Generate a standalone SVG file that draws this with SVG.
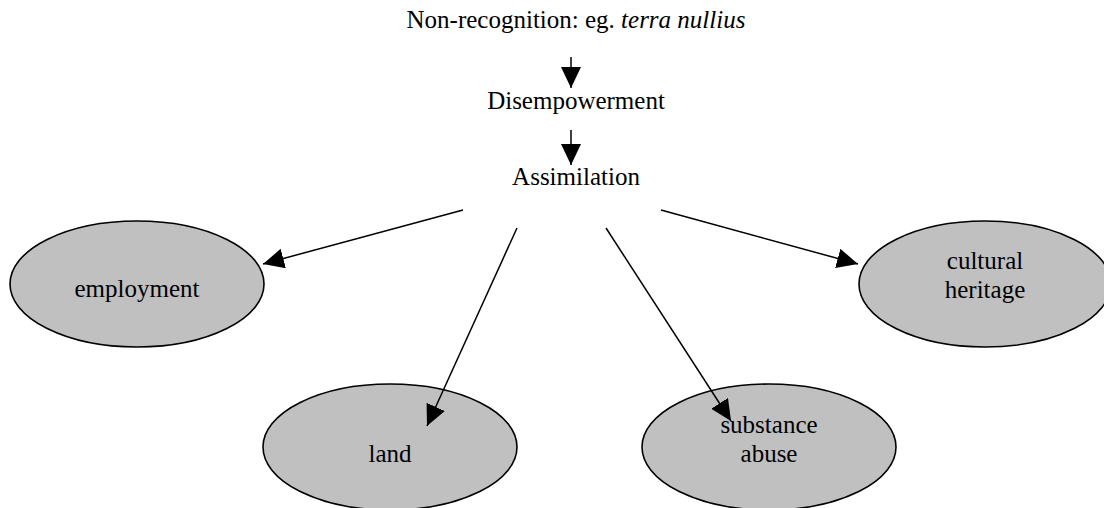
<svg xmlns="http://www.w3.org/2000/svg" width="1104" height="508" viewBox="0 0 1104 508">
<style>
text{font-family:"Times New Roman","Liberation Serif","Nimbus Roman","DejaVu Serif",serif;font-size:25px;fill:#000;text-anchor:middle}
.node ellipse{fill:#c0c0c0;stroke:#000;stroke-width:1.6}
.edge{stroke:#000;stroke-width:1.5;fill:none}
</style>
<defs>
<marker id="ah" markerUnits="userSpaceOnUse" markerWidth="24" markerHeight="22" refX="21" refY="10" orient="auto">
<path d="M0,0 L21,10 L0,20 z" fill="#000"/>
</marker>
</defs>
<rect width="1104" height="508" fill="#fff"/>
<g id="n-nonrecognition"><text x="576" y="28">Non-recognition: eg. <tspan font-style="italic">terra nullius</tspan></text></g>
<g id="n-disempowerment"><text x="576" y="109">Disempowerment</text></g>
<g id="n-assimilation"><text x="576" y="185">Assimilation</text></g>
<g id="n-employment" class="node"><ellipse cx="137" cy="284" rx="127" ry="63"/><text x="137" y="297">employment</text></g>
<g id="n-land" class="node"><ellipse cx="390" cy="447" rx="127" ry="63"/><text x="390" y="462">land</text></g>
<g id="n-substance" class="node"><ellipse cx="769" cy="447" rx="127" ry="63"/><text x="769" y="433">substance</text><text x="769" y="462">abuse</text></g>
<g id="n-cultural" class="node"><ellipse cx="985" cy="284" rx="126" ry="63"/><text x="985" y="269">cultural</text><text x="985" y="298">heritage</text></g>
<g id="connectors">
<line class="edge" x1="571" y1="57" x2="571" y2="88" marker-end="url(#ah)"/>
<line class="edge" x1="571" y1="130" x2="571" y2="165" marker-end="url(#ah)"/>
<line class="edge" x1="463" y1="210" x2="263" y2="264" marker-end="url(#ah)"/>
<line class="edge" x1="517" y1="228" x2="427" y2="426" marker-end="url(#ah)"/>
<line class="edge" x1="606" y1="228" x2="731" y2="421" marker-end="url(#ah)"/>
<line class="edge" x1="661" y1="210" x2="858" y2="264" marker-end="url(#ah)"/>
</g>
</svg>
